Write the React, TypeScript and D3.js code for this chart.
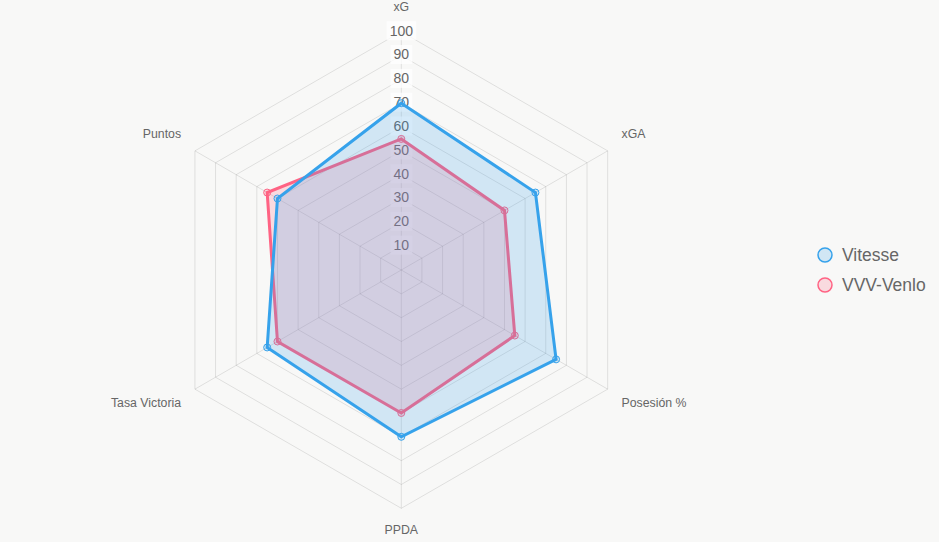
import * as d3 from 'd3'
import { useEffect, useRef } from 'react'

const axisLabels = ['xG', 'xGA', 'Posesión %', 'PPDA', 'Tasa Victoria', 'Puntos']
const vitesseValues = [70, 65, 75, 70, 65, 60]
const venloValues = [55, 50, 55, 60, 60, 65]
const tickValues = [10, 20, 30, 40, 50, 60, 70, 80, 90, 100]

const series = [
    { name: 'Vitesse', values: vitesseValues, stroke: 'rgb(54,162,235)', fill: 'rgba(54,162,235,0.2)' },
    { name: 'VVV-Venlo', values: venloValues, stroke: 'rgb(255,99,132)', fill: 'rgba(255,99,132,0.2)' },
]

export default function App() {
    const svgRef = useRef<SVGSVGElement>(null)
    const width = 939
    const height = 542

    useEffect(() => {
        if (!svgRef.current) return
        const svg = d3.select(svgRef.current)
        svg.selectAll('*').remove()

        const cx = 401.3
        const cy = 270
        const radius = 238.3
        const font = 'Helvetica Neue, Helvetica, Arial, "Liberation Sans", sans-serif'

        svg.append('rect').attr('width', width).attr('height', height).attr('fill', '#f8f8f7')

        const r = d3.scaleLinear().domain([0, 100]).range([0, radius])
        const angleSlice = (Math.PI * 2) / axisLabels.length

        const g = svg.append('g').attr('transform', `translate(${cx},${cy})`)

        // grid hexagons
        const ring = d3
            .lineRadial<number>()
            .curve(d3.curveLinearClosed)
            .radius((d) => r(d))
            .angle((_d, i) => angleSlice * i)

        tickValues.forEach((t) => {
            g.append('path')
                .attr('d', ring(axisLabels.map(() => t)) as string)
                .attr('fill', 'none')
                .attr('stroke', 'rgba(0,0,0,0.1)')
                .attr('stroke-width', 1)
        })

        // spokes + point labels
        axisLabels.forEach((name, i) => {
            const a = angleSlice * i
            const sx = Math.sin(a)
            const sy = -Math.cos(a)
            g.append('line')
                .attr('x1', 0)
                .attr('y1', 0)
                .attr('x2', radius * sx)
                .attr('y2', radius * sy)
                .attr('stroke', 'rgba(0,0,0,0.1)')

            const lr = radius + 16
            const lx = lr * sx
            const ly = lr * sy
            const anchor = Math.abs(sx) < 0.01 ? 'middle' : sx > 0 ? 'start' : 'end'
            g.append('text')
                .attr('x', lx)
                .attr('y', sy < 0 ? ly - 5 : ly + 10)
                .attr('text-anchor', anchor)
                .attr('fill', '#666')
                .style('font-family', font)
                .style('font-size', '12.3px')
                .text(name)
        })

        // tick labels with backdrop
        tickValues.forEach((t) => {
            const y = -r(t) - 1
            const label = g.append('g')
            const txt = label
                .append('text')
                .attr('x', 0)
                .attr('y', y)
                .attr('dy', '0.35em')
                .attr('text-anchor', 'middle')
                .attr('fill', '#666')
                .style('font-family', font)
                .style('font-size', '14px')
                .text(String(t))
            const bb = (txt.node() as SVGTextElement).getBBox()
            label
                .insert('rect', 'text')
                .attr('x', bb.x - 3)
                .attr('y', y - 9.5)
                .attr('width', bb.width + 6)
                .attr('height', 19)
                .attr('fill', 'rgba(255,255,255,0.75)')
        })

        // datasets (last first so first sits on top)
        const area = d3
            .lineRadial<number>()
            .curve(d3.curveLinearClosed)
            .radius((d) => r(d))
            .angle((_d, i) => angleSlice * i)

        series
            .slice()
            .reverse()
            .forEach((s) => {
                g.append('path')
                    .attr('d', area(s.values) as string)
                    .attr('fill', s.fill)
                    .attr('stroke', s.stroke)
                    .attr('stroke-width', 3)
                    .attr('stroke-linejoin', 'miter')
                s.values.forEach((v, i) => {
                    const a = angleSlice * i
                    g.append('circle')
                        .attr('cx', r(v) * Math.sin(a))
                        .attr('cy', -r(v) * Math.cos(a))
                        .attr('r', 3.5)
                        .attr('fill', s.fill)
                        .attr('stroke', s.stroke)
                        .attr('stroke-width', 1)
                })
            })

        // legend
        const legend = svg.append('g').attr('transform', 'translate(825,255)')
        series.forEach((s, i) => {
            const item = legend.append('g').attr('transform', `translate(0,${i * 30})`)
            item.append('circle')
                .attr('r', 7)
                .attr('fill', s.fill)
                .attr('stroke', s.stroke)
                .attr('stroke-width', 1.5)
            item.append('text')
                .attr('x', 17)
                .attr('y', 0)
                .attr('dy', '0.35em')
                .attr('fill', '#666')
                .style('font-family', font)
                .style('font-size', '17.5px')
                .text(s.name)
        })
    }, [])

    return (
        <svg
            ref={svgRef}
            width={width}
            height={height}
            style={{ position: 'absolute', left: 0, top: 0, display: 'block' }}
        />
    )
}
